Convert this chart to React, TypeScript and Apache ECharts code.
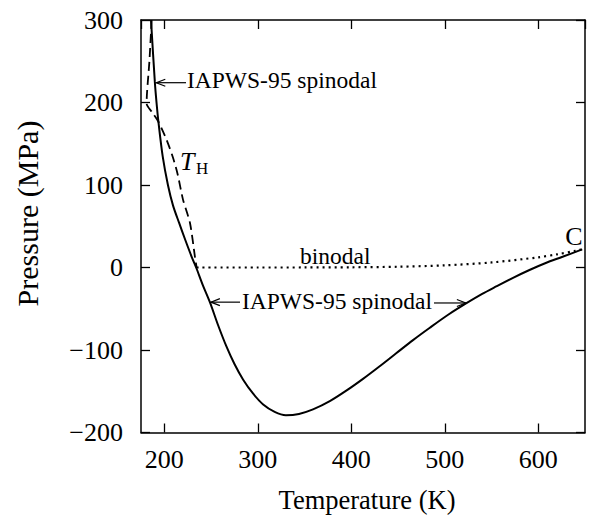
import React, { useEffect, useRef } from 'react';
import * as echarts from 'echarts';

// IAPWS-95 spinodal (solid)
const spinodalT = [185.7, 189.8, 191.6, 193.6, 198.3, 203.8, 209.3, 215.8, 222.5, 229.2, 234, 241, 248.7, 257.5, 266.5, 275, 284.3, 295, 305.7, 318, 330, 344, 359, 377, 395, 412.5, 430, 448, 466, 484, 504, 523.6, 540, 555, 573, 590.6, 608, 626, 647];
const spinodalP = [300, 225, 200, 177, 134, 100, 75, 54, 33, 13, 0, -21, -42, -70, -96, -117, -136, -153, -166, -175, -179, -177.5, -172, -162, -149, -135, -120, -104, -88, -73, -57, -43, -32, -23, -12.5, -3, 5.5, 13, 22];

// Homogeneous nucleation temperature T_H (dashed)
const thT = [186.4, 184, 181, 187, 193.5, 202.3, 209, 214, 220, 227.4, 232.7, 234.5];
const thP = [300, 250, 199, 188, 177, 155, 134, 114, 82, 54, 13, 0];

// Binodal (dotted)
const binT = [234.5, 300, 350, 400, 450, 500, 550, 600, 620, 640, 647];
const binP = [0, 0.0035, 0.04, 0.25, 0.93, 2.64, 6.12, 12.34, 15.9, 20.3, 22.06];

const xTicks = [200, 300, 400, 500, 600];
const yTicks = [-200, -100, 0, 100, 200, 300];

// annotation anchors (data coords)
const upperArrowTip = [190.3, 224];
const lowerLeftTip = [248.7, -42];
const lowerRightTip = [523.6, -43];

const FONT = 'Liberation Serif';

const zip = (a: number[], b: number[]) => a.map((v, i) => [v, b[i]]);

export default function App() {
  const ref = useRef<HTMLDivElement>(null);
  useEffect(() => {
    const chart = echarts.init(ref.current!, null, { renderer: 'svg' });
    const axisLine = { onZero: false, lineStyle: { color: '#000', width: 1.5 } };
    const axisTick = { inside: true, length: 9, lineStyle: { color: '#000', width: 1.3 } };
    const xBase = {
      type: 'value', min: 175, max: 650, splitNumber: 5, minInterval: 100, maxInterval: 100,
      axisLine, axisTick, splitLine: { show: false },
    };
    const yBase = {
      type: 'value', min: -200, max: 300, interval: 100,
      axisLine, axisTick, splitLine: { show: false },
    };
    chart.setOption({
      animation: false,
      backgroundColor: '#fff',
      grid: { left: 141, right: 10, top: 20, bottom: 85.5, containLabel: false },
      xAxis: [
        {
          ...xBase, position: 'bottom',
          axisLabel: {
            margin: 14, color: '#000', fontFamily: FONT, fontSize: 26,
            showMinLabel: false, showMaxLabel: false,
            formatter: (v: number) => (xTicks.includes(v) ? String(v) : ''),
          },
        },
        { ...xBase, position: 'top', axisLabel: { show: false } },
      ],
      yAxis: [
        {
          ...yBase, position: 'left',
          axisLabel: {
            margin: 18, color: '#000', fontFamily: FONT, fontSize: 26,
            formatter: (v: number) => (yTicks.includes(v) ? (v < 0 ? '\u2212' + Math.abs(v) : String(v)) : ''),
          },
        },
        { ...yBase, position: 'right', axisLabel: { show: false } },
      ],
      series: [
        {
          type: 'line', name: 'IAPWS-95 spinodal', data: zip(spinodalT, spinodalP),
          showSymbol: false, smooth: 0.3, silent: true,
          lineStyle: { color: '#000', width: 2 },
        },
        {
          type: 'line', name: 'T_H', data: zip(thT, thP),
          showSymbol: false, smooth: 0.25, silent: true,
          lineStyle: { color: '#000', width: 1.8, type: [9, 5] },
        },
        {
          type: 'line', name: 'binodal', data: zip(binT, binP),
          showSymbol: false, smooth: 0.3, silent: true,
          lineStyle: { color: '#000', width: 2.2, type: [2, 4] },
        },
      ],
    });

    const px = (p: number[]) => chart.convertToPixel({ xAxisIndex: 0, yAxisIndex: 0 }, p) as number[];
    const txt = (text: string, x: number, y: number, size: number, extra: any = {}) => ({
      type: 'text', x, y, silent: true,
      style: { text, fontFamily: FONT, fontSize: size, fill: '#000', align: 'left', verticalAlign: 'middle', ...extra },
    });
    const seg = (x1: number, y1: number, x2: number, y2: number) => ({
      type: 'line', silent: true, shape: { x1, y1, x2, y2 }, style: { stroke: '#000', lineWidth: 1.2 },
    });
    const head = (x: number, y: number, dir: number) => ({
      type: 'polyline', silent: true,
      shape: { points: [[x + dir * 9, y - 3.5], [x, y], [x + dir * 9, y + 3.5]] },
      style: { stroke: '#000', lineWidth: 1.2, fill: 'none' },
    });

    const u = px(upperArrowTip);
    const ll = px(lowerLeftTip);
    const lr = px(lowerRightTip);

    chart.setOption({
      graphic: [
        seg(u[0] + 1, u[1], 186, u[1]), head(u[0] + 1, u[1], 1),
        txt('IAPWS-95 spinodal', 187, 80, 23.5),
        seg(ll[0] + 1, ll[1], 240, ll[1]), head(ll[0] + 1, ll[1], 1),
        txt('IAPWS-95 spinodal', 242, 300.5, 23.5),
        seg(434, lr[1], lr[0] - 1, lr[1]), head(lr[0] - 1, lr[1], -1),
        txt('binodal', 300, 255.5, 23.5),
        txt('T', 180, 161, 26, { fontStyle: 'italic' }),
        txt('H', 196, 168, 17),
        txt('C', 574, 236, 26, { align: 'center' }),
        txt('Temperature (K)', 367, 500, 26.5, { align: 'center' }),
        { ...txt('Pressure (MPa)', 27, 213.5, 30, { align: 'center' }), rotation: Math.PI / 2 },
      ],
    });
    return () => chart.dispose();
  }, []);
  return <div ref={ref} style={{ position: 'fixed', left: 0, top: 0, width: 595, height: 518, background: '#fff' }} />;
}
